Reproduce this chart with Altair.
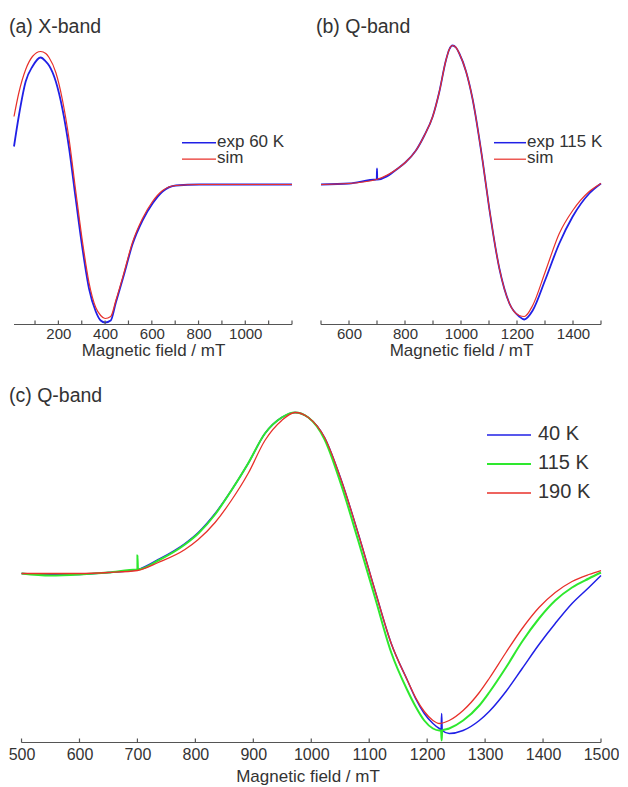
import altair as alt
import pandas as pd

FONT = "Liberation Sans"
AXC = "#555555"
TXT = "#333333"
BLUE = "#2020e6"
RED = "#e8302a"
GREEN = "#2ee82e"

# ---------------- (a) X-band ----------------
a_field = [10, 31, 60, 89, 124, 146, 160, 189, 217, 246, 274, 303, 331, 360, 381,
           400, 424, 446, 481, 517, 560, 603, 646, 703, 803, 1200]
a_exp = [38, 69, 103, 118, 127, 123, 119, 103, 76, 36, -14, -64, -104, -127, -136,
         -138, -136, -118, -90, -60, -36, -19, -7, -1, 0, 0]
a_sim = [68, 92, 115, 128, 133, 131, 127, 112, 85, 45, -6, -57, -98, -123, -131,
         -134, -132, -116, -88, -58, -34, -17, -6, -1, 0, 0]
a_ticks = [100, 200, 300, 400, 500, 600, 700, 800, 900, 1000, 1100, 1200]
a_labels = [200, 400, 600, 800, 1000]
a_range = [10, 1200]
a_legend = ["exp 60 K", "sim"]

# ---------------- (b) Q-band ----------------
b_field = [500, 600, 698, 699, 700, 701, 779, 801, 839, 869, 899, 922, 946, 958,
           970, 982, 994, 1018, 1041, 1077, 1101, 1137, 1173, 1208, 1226, 1256,
           1300, 1351, 1399, 1458, 1500]
b_exp = [0, 1, 5, 5, 16, 5, 17, 22, 34, 49, 68, 92, 124, 135,
         139, 137, 131, 113, 86, 24, -24, -84, -119, -132, -135, -126,
         -96, -59, -32, -9, 1]
b_sim_field = [500, 600, 698, 779, 801, 839, 869, 899, 922, 946, 958, 970, 982,
               994, 1018, 1041, 1077, 1101, 1137, 1173, 1208, 1226, 1256, 1300,
               1351, 1399, 1458, 1500]
b_sim = [0, 1, 5, 17, 22, 34, 49, 68, 92, 124, 135, 139, 137,
         131, 113, 86, 24, -24, -84, -119, -131, -132, -121, -88,
         -49, -26, -7, 1]
b_ticks = [500, 600, 700, 800, 900, 1000, 1100, 1200, 1300, 1400, 1500]
b_labels = [600, 800, 1000, 1200, 1400]
b_range = [500, 1500]
b_legend = ["exp 115 K", "sim"]

# ---------------- (c) Q-band, temperatures ----------------
c_field = [500, 550, 600, 650, 700, 736, 782, 805, 834, 862, 891, 920, 949, 972,
           995, 1023, 1052, 1081, 1110, 1138, 1166, 1180, 1195, 1210, 1221,
           1238, 1262, 1290, 1307, 1336, 1364, 1393, 1421, 1450, 1479, 1500]
c_40K = [0, -1, -1, 1, 4, 14, 30, 41, 60, 83, 110, 140, 156, 161,
         156, 136, 93, 40, -17, -70, -107, -125, -140, -150, -155,
         -160, -157, -147, -138, -118, -95, -71, -50, -30, -14, -2]
c_115K = [0, -2, -1, 1, 4, 13, 29, 40, 59, 83, 110, 140, 156, 161,
          156, 134, 88, 33, -24, -79, -117, -133, -147, -155, -157,
          -155, -147, -132, -119, -94, -68, -45, -27, -14, -5, 1]
c_190K = [0, 0, 0, 1, 3, 11, 24, 34, 51, 73, 100, 133, 153, 161,
          156, 136, 93, 40, -17, -70, -107, -124, -138, -147, -150,
          -147, -137, -119, -105, -79, -55, -34, -19, -8, -1, 3]
c_40K_spike_field = [1224, 1225, 1226]
c_40K_spike = [-156, -140, -157]
c_115K_spike_field = [699, 700, 701, 1224, 1225, 1226]
c_115K_spike = [4, 18, 4, -157, -167, -157]
c_ticks = [500, 600, 700, 800, 900, 1000, 1100, 1200, 1300, 1400, 1500]
c_labels = c_ticks
c_range = [500, 1500]
c_legend = ["40 K", "115 K", "190 K"]


def make_panel(series, xdom, ydom, w, h, ticks, labels, xrange_, title,
               leg_names, leg_colors, leg_widths, leg_x0, leg_x1, leg_tx, leg_y0,
               leg_dy, leg_fs, title_y, lab_fs, lab_pad, ttl_fs, ttl_pad):
    xs = alt.Scale(domain=xdom, nice=False, zero=False)
    ys = alt.Scale(domain=ydom, nice=False, zero=False)
    axis = alt.Axis(values=labels, ticks=False, domain=False, grid=False,
                    labelFont=FONT, labelFontSize=lab_fs, labelColor=TXT,
                    labelPadding=lab_pad, labelFlush=False, format="d",
                    title="Magnetic field / mT", titleFont=FONT,
                    titleFontSize=ttl_fs, titleFontWeight="normal",
                    titleColor=TXT, titlePadding=ttl_pad)
    layers = []
    for fields, vals, color, sw in series:
        df = pd.DataFrame({"B": fields, "S": vals})
        layers.append(
            alt.Chart(df).mark_line(color=color, strokeWidth=sw,
                                    interpolate="monotone").encode(
                x=alt.X("B:Q", scale=xs, axis=axis),
                y=alt.Y("S:Q", scale=ys, axis=None)))
    # axis line
    dom = pd.DataFrame({"x0": [xrange_[0]], "x1": [xrange_[1]]})
    layers.append(alt.Chart(dom).mark_rule(color=AXC, strokeWidth=1.2).encode(
        x=alt.X("x0:Q", scale=xs, axis=axis), x2="x1:Q", y=alt.value(h)))
    # upward ticks
    tdf = pd.DataFrame({"T": ticks})
    layers.append(alt.Chart(tdf).mark_rule(color=AXC, strokeWidth=1.2).encode(
        x=alt.X("T:Q", scale=xs, axis=axis), y=alt.value(h), y2=alt.value(h - 4)))
    # legend
    for i, (nm, col, sw) in enumerate(zip(leg_names, leg_colors, leg_widths)):
        yy = leg_y0 + i * leg_dy
        layers.append(alt.Chart(pd.DataFrame({"k": [0]})).mark_rule(
            color=col, strokeWidth=sw).encode(
            x=alt.value(leg_x0), x2=alt.value(leg_x1), y=alt.value(yy)))
        layers.append(alt.Chart(pd.DataFrame({"t": [nm]})).mark_text(
            align="left", baseline="middle", font=FONT, fontSize=leg_fs,
            color=TXT).encode(x=alt.value(leg_tx), y=alt.value(yy - 1),
                              text="t:N"))
    # panel title
    layers.append(alt.Chart(pd.DataFrame({"t": [title]})).mark_text(
        align="left", baseline="middle", font=FONT, fontSize=19.5,
        color=TXT).encode(x=alt.value(-5), y=alt.value(title_y), text="t:N"))
    return alt.layer(*layers).properties(width=w, height=h)


pa = make_panel(
    [(a_field, a_exp, BLUE, 1.8), (a_field, a_sim, RED, 1.2)],
    [10, 1200], [-140, 145], 278, 285, a_ticks, a_labels, a_range,
    "(a) X-band", a_legend, [BLUE, RED], [1.5, 1.2],
    168, 202, 203, 103.2, 16.5, 17, -13, 15, 2, 17, 1)

pb = make_panel(
    [(b_field, b_exp, BLUE, 1.8), (b_sim_field, b_sim, RED, 1.2)],
    [500, 1500], [-140, 145], 280, 285, b_ticks, b_labels, b_range,
    "(b) Q-band", b_legend, [BLUE, RED], [1.5, 1.2],
    173, 205, 206, 103.2, 16.5, 17, -13, 15, 2, 17, 1)

c_blue_f = c_field + c_40K_spike_field
c_blue_v = c_40K + c_40K_spike
c_green_f = c_field + c_115K_spike_field
c_green_v = c_115K + c_115K_spike

pc = make_panel(
    [(c_blue_f, c_blue_v, BLUE, 1.5), (c_green_f, c_green_v, GREEN, 2.0),
     (c_field, c_190K, RED, 1.3)],
    [487, 1500], [-169, 171], 587, 340, c_ticks, c_labels, c_range,
    "(c) Q-band", c_legend, [BLUE, GREEN, RED], [1.3, 2.2, 1.3],
    473, 517, 524, 32.5, 29, 20, -7, 16, 4, 17, 6)

row1 = alt.hconcat(pa, pb, spacing=29, bounds="flush")
chart = alt.vconcat(row1, pc, spacing=27, bounds="full").properties(
    padding={"left": 0, "top": 8.5, "right": 0, "bottom": 4}
).configure_view(stroke=None)

chart.save("out.html", embed_options={"renderer": "svg", "actions": False})
